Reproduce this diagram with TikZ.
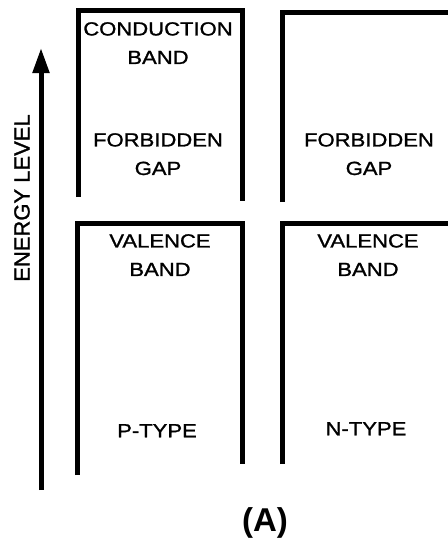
\documentclass[tikz,border=0pt]{standalone}
\usepackage{fontspec}
\setmainfont{Liberation Sans}
\newfontfamily\bandfont[FakeStretch=1.16,FakeBold=1.2]{Liberation Sans}
\newfontfamily\axisfont[FakeBold=1.2]{Liberation Sans}
\usetikzlibrary{arrows.meta}

\begin{document}
\begin{tikzpicture}[
  x=1pt,y=-1pt,
  band/.style={line width=5pt,line join=miter},
  label/.style={font=\bandfont\fontsize{19}{28.5}\selectfont,align=center,inner sep=0pt,anchor=north},
  arrow/.style={-{Triangle[length=25pt,width=16pt]},line width=5pt}
]
  \useasboundingbox (0,0) rectangle (448,542);
  % band outlines
  \draw[band] (78,197) -- (78,10) -- (242,10) -- (242,201);
  \draw[band] (282,202) -- (282,12) -- (452,12);
  \draw[band] (77,475) -- (77,223) -- (242,223) -- (242,464);
  \draw[band] (282,464) -- (282,223) -- (452,223);
  % energy axis
  \coordinate (low) at (41,490);
  \coordinate (high) at (41,48);
  \draw[arrow] (low) -- (high);
  \node[rotate=90,font=\axisfont\fontsize{22}{26}\selectfont,inner sep=0pt] (energy) at (22,198) {ENERGY LEVEL};
  % labels
  \node[label] (conduction) at (158,22) {CONDUCTION\\BAND};
  \node[label] (gapp) at (158,133) {FORBIDDEN\\GAP};
  \node[label] (valencep) at (160,234) {VALENCE\\BAND};
  \node[label] (ptype) at (157,424) {P-TYPE};
  \node[label] (gapn) at (369,133) {FORBIDDEN\\GAP};
  \node[label] (valencen) at (368,234) {VALENCE\\BAND};
  \node[label] (ntype) at (366,422) {N-TYPE};
  \node[font=\bfseries\fontsize{33}{36}\selectfont,inner sep=0pt] (caption) at (265,523) {(A)};
\end{tikzpicture}
\end{document}
